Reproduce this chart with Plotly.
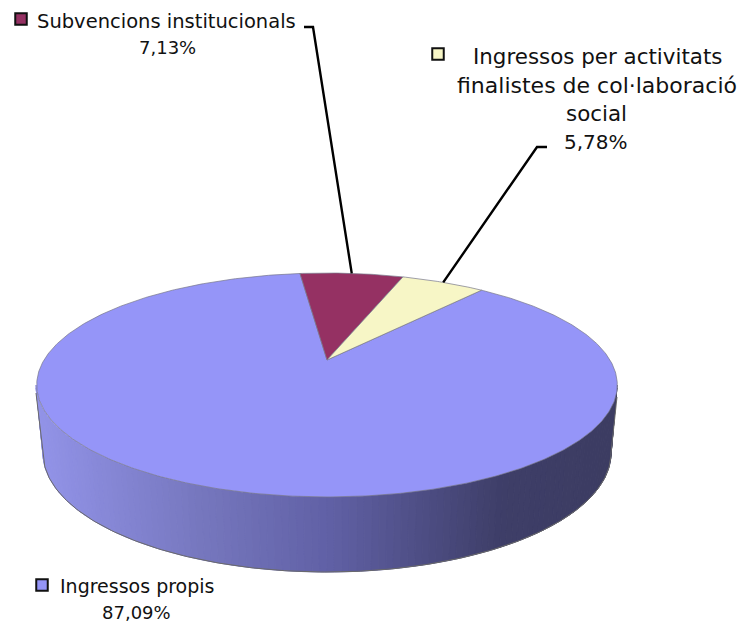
import numpy as np
import plotly.graph_objects as go

categories = ["Subvencions institucionals", "Ingressos per activitats finalistes de col·laboració social", "Ingressos propis"]
shares = [7.13, 5.78, 87.09]
share_labels = ["7,13%", "5,78%", "87,09%"]
colors = ["#953163", "#f7f6c6", "#9595f8"]
START_DEG = -6.7

# Perspective disc geometry, in page pixels
CX, CY, A, B, K = 327.0, 360.0, 283.0, 106.4, 0.223


def rim(theta):
    u, v = np.sin(theta), np.cos(theta)
    d = 1 + K * v
    return CX + A * u / d, CY - B * v / d


def wall_color(x):
    xs = [40, 200, 330, 500, 610]
    rs = [146, 118, 96, 62, 60]
    gs = [147, 119, 96, 62, 60]
    bs = [232, 190, 165, 104, 98]
    return f"rgb({np.interp(x, xs, rs):.0f},{np.interp(x, xs, gs):.0f},{np.interp(x, xs, bs):.0f})"


fig = go.Figure()


def ellipse(phi, cx, cy, rx, ry):
    return cx + rx * np.cos(phi), cy + ry * np.sin(phi)


# Side wall
phis = np.linspace(np.pi, 0, 121)
for p0, p1 in zip(phis[:-1], phis[1:]):
    seg = np.array([p0, p1])
    tx, ty = ellipse(seg, 326.5, 385, 290.5, 112)
    bx, by = ellipse(seg, 327, 453, 284, 119)
    xs = [tx[0], tx[1], bx[1], bx[0], tx[0]]
    ys = [ty[0], ty[1], by[1], by[0], ty[0]]
    col = wall_color(float(np.mean(xs)))
    fig.add_trace(go.Scatter(x=xs, y=ys, mode="lines", fill="toself", fillcolor=col,
                             line=dict(color=col, width=1), hoverinfo="skip", showlegend=False))

# Wall outline
ph = np.linspace(np.pi, 0, 200)
tx, ty = ellipse(ph, 326.5, 385, 290.5, 112)
bx, by = ellipse(ph, 327, 453, 284, 119)
fig.add_trace(go.Scatter(x=np.r_[tx[0], bx, tx[-1]], y=np.r_[ty[0] + 8, by, ty[-1] + 12], mode="lines",
                         line=dict(color="#6a6a6a", width=1), hoverinfo="skip", showlegend=False))

# Top face slices, drawn from the shares
edges = np.radians(START_DEG + np.cumsum([0] + shares) * 3.6)
order = [2, 0, 1]
for i in order:
    th = np.linspace(edges[i], edges[i + 1], max(6, int(shares[i] * 6)))
    rx, ry = rim(th)
    fig.add_trace(go.Scatter(x=np.r_[CX, rx, CX], y=np.r_[CY, ry, CY], mode="lines", fill="toself",
                             fillcolor=colors[i], line=dict(color="#77778a", width=0.7),
                             name=categories[i], hoverinfo="skip", showlegend=False))

# Leader lines end on the rim at each slice's middle
mids = (edges[:-1] + edges[1:]) / 2
mx, my = rim(mids)
fig.add_trace(go.Scatter(x=[304, 313, mx[0]], y=[27, 27, my[0]], mode="lines",
                         line=dict(color="black", width=2.4), hoverinfo="skip", showlegend=False))
fig.add_trace(go.Scatter(x=[547, 537, mx[1]], y=[147, 147, my[1]], mode="lines",
                         line=dict(color="black", width=2.4), hoverinfo="skip", showlegend=False))

# Legend keys
fig.add_trace(go.Scatter(x=[21, 438, 42], y=[19, 54, 585], mode="markers",
                         marker=dict(symbol="square", size=11.5, color=colors, line=dict(color="#111111", width=2)),
                         hoverinfo="skip", showlegend=False))

lines = [
    (166, 21, categories[0], 19.5),
    (167, 47, share_labels[0], 18),
    (597, 56, "Ingressos per activitats", 21.4),
    (596.5, 85, "finalistes de col·laboració", 22),
    (596, 113, "social", 21.4),
    (596, 142, share_labels[1], 20),
    (137, 586, categories[2], 19),
    (136, 612, share_labels[2], 18),
]
for x, y, t, s in lines:
    fig.add_annotation(x=x, y=y, text=t, showarrow=False, xanchor="center", yanchor="middle",
                       font=dict(family="DejaVu Sans", size=s, color="#111111"))

fig.update_layout(width=746, height=626, margin=dict(l=0, r=0, t=0, b=0),
                  paper_bgcolor="white", plot_bgcolor="white",
                  xaxis=dict(range=[0, 746], visible=False, fixedrange=True),
                  yaxis=dict(range=[626, 0], visible=False, fixedrange=True))
fig.write_html("out.html", config={"displayModeBar": False},
               post_script="document.body.style.margin='0';document.body.style.overflow='hidden';")
